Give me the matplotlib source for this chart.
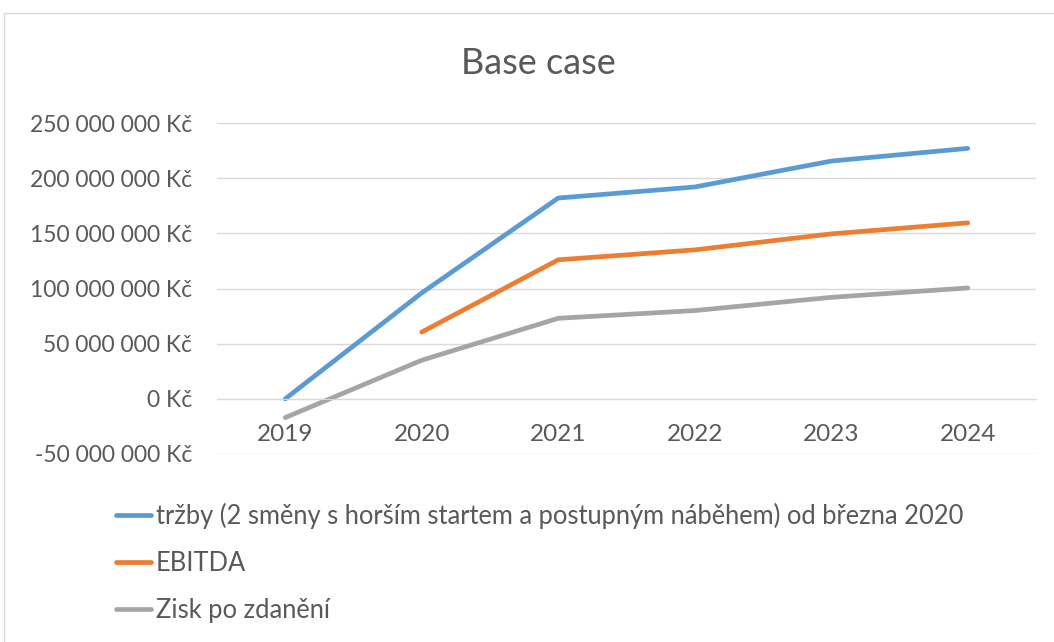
import matplotlib.pyplot as plt
from matplotlib.patches import Rectangle
from matplotlib.ticker import FuncFormatter
import numpy as np

# Data (in Kč)
years = ['2019', '2020', '2021', '2022', '2023', '2024']
trzby = [0, 96e6, 182e6, 192e6, 215.5e6, 227e6]
ebitda = [np.nan, 60.5e6, 126e6, 135e6, 149.5e6, 159.5e6]
zisk = [-17e6, 35e6, 73e6, 80e6, 92e6, 100.5e6]
labels = ['tržby (2 směny s horším startem a postupným náběhem) od března 2020',
          'EBITDA',
          'Zisk po zdanění']
colors = ['#5B9BD5', '#ED7D31', '#A5A5A5']
yticks = [-50e6, 0, 50e6, 100e6, 150e6, 200e6, 250e6]

plt.rcParams['font.family'] = ['Lato', 'DejaVu Sans']
TXT = '#595959'

fig = plt.figure(figsize=(10.54, 6.42), dpi=100)
W, H = 1054, 642
ax = fig.add_axes([217 / W, 1 - 454 / H, (1036 - 217) / W, (454 - 123) / H])

x = np.arange(len(years))
for vals, lab, c in zip([trzby, ebitda, zisk], labels, colors):
    ax.plot(x, vals, color=c, lw=3.4, label=lab, solid_capstyle='round')

ax.set_xlim(-0.5, len(years) - 0.5)
ax.set_ylim(-50e6, 250e6)
ax.set_yticks(yticks)
ax.yaxis.set_major_formatter(FuncFormatter(lambda v, p: f'{int(v):,} Kč'.replace(',', ' ')))
ax.set_xticks(x)
ax.set_xticklabels(years)
ax.grid(axis='y', color='#D9D9D9', lw=1)
ax.set_axisbelow(True)
for s in ['top', 'right', 'left']:
    ax.spines[s].set_visible(False)
ax.spines['bottom'].set_position(('data', 0))
ax.spines['bottom'].set_color('#D9D9D9')
ax.tick_params(axis='y', length=0, colors=TXT, labelsize=16.5, pad=18)
ax.tick_params(axis='x', length=0, colors=TXT, labelsize=17.5, pad=18)

fig.text(538 / W, 1 - 64 / H, 'Base case', ha='center', va='center', fontsize=26, color=TXT)

leg = fig.legend(loc='upper left', bbox_to_anchor=(93 / W, 1 - 480 / H), frameon=False,
                 fontsize=18.4, labelcolor=TXT, handlelength=1.35, handletextpad=0.2,
                 labelspacing=0.85)

fig.add_artist(Rectangle((4 / W, -0.1), 1.2, 1 - 13 / H + 0.1, transform=fig.transFigure,
                         fill=False, edgecolor='#D9D9D9', lw=1))

fig.savefig('out.png', dpi=100)
